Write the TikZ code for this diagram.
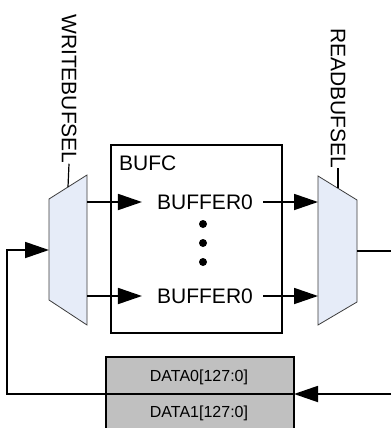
\documentclass[tikz,border=0pt]{standalone}
\usepackage{fontspec}
\setmainfont{Liberation Sans}
\usetikzlibrary{arrows.meta}
\definecolor{muxfill}{RGB}{230,236,248}
\definecolor{muxedge}{RGB}{60,60,60}
\definecolor{datafill}{RGB}{192,192,192}
\begin{document}
\begin{tikzpicture}[x=1pt,y=-1pt,
  wire/.style={line width=1.8pt,black},
  arr/.style={wire,-{Triangle[length=24pt,width=16pt]}},
  muxshape/.style={fill=muxfill,draw=muxedge,line width=0.8pt},
  lbl/.style={font=\fontsize{21}{23}\selectfont,inner sep=0pt},
  sel/.style={lbl,rotate=-90,anchor=west},
  datalbl/.style={font=\fontsize{16}{18}\selectfont,inner sep=0pt},
  dotn/.style={circle,fill=black,inner sep=0pt,minimum size=8pt}]
\clip (0,0) rectangle (391,428);
\useasboundingbox (0,0) rectangle (391,428);
% BUFC box
\draw[wire] (111,145) rectangle (282,333);
\node[lbl,anchor=west] (bufc) at (119,163) {BUFC};
\node[lbl] (buf1) at (205,202) {BUFFER0};
\node[lbl] (buf2) at (205,296) {BUFFER0};
\node[dotn] (d1) at (203,224) {};
\node[dotn] (d2) at (203,243) {};
\node[dotn] (d3) at (203,262) {};
% left mux
\draw[muxshape] (49,199) -- (87,175) -- (87,325) -- (49,300) -- cycle;
\coordinate (lin) at (49,250);
\coordinate (lout1) at (87,202);
\coordinate (lout2) at (87,296);
\coordinate (lsel) at (68,187);
% right mux
\draw[muxshape] (318,176) -- (357,200) -- (357,302) -- (318,325) -- cycle;
\coordinate (rin1) at (318,202);
\coordinate (rin2) at (318,296);
\coordinate (rout) at (357,251);
\coordinate (rsel) at (338,188);
\coordinate (rend) at (391,251);
% select labels
\node[sel] (wsel) at (69,14) {WRITEBUFSEL};
\node[sel] (rsell) at (338,28) {READBUFSEL};
\draw[wire,line width=1.2pt] (lsel) -- (wsel.east);
\draw[wire,line width=1.2pt] (rsel) -- (rsell.east);
% arrows
\draw[arr,shorten >=15pt] (lout1) -- (buf1.west);
\draw[arr,shorten >=15pt] (lout2) -- (buf2.west);
\draw[arr,shorten <=10pt] (buf1.east) -- (rin1);
\draw[arr,shorten <=10pt] (buf2.east) -- (rin2);
\draw[wire] (rout) -- (rend);
% data box
\draw[wire,fill=datafill] (106,357) rectangle (294,440);
\coordinate (dl) at (106,394);
\coordinate (dr) at (294,394);
\coordinate (din) at (391,394);
\coordinate (lc1) at (7,394);
\coordinate (lc2) at (7,250);
\draw[wire] (dl) -- (dr);
\node[datalbl] (data0) at (199,377) {DATA0[127:0]};
\node[datalbl] (data1) at (199,413) {DATA1[127:0]};
\draw[arr] (din) -- (dr);
\draw[arr] (dl) -- (lc1) -- (lc2) -- (lin);
\end{tikzpicture}
\end{document}
